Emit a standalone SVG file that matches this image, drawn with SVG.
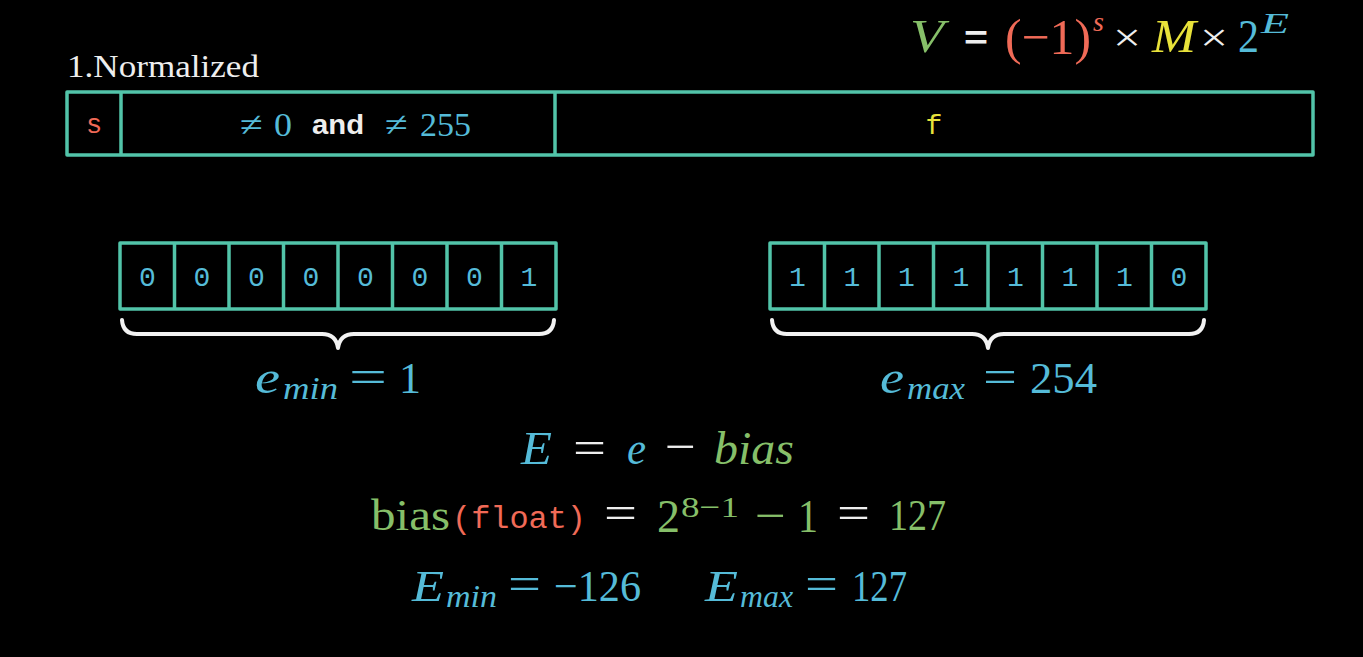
<svg xmlns="http://www.w3.org/2000/svg" width="1363" height="657" viewBox="0 0 1363 657">
<style>
.bg{fill:#000}
.box{fill:none;stroke:#52c4a9;stroke-width:3.5;stroke-linejoin:round}
.div{stroke:#52c4a9;stroke-width:3.5}
.brace{fill:none;stroke:#f2f2f2;stroke-width:4;stroke-linecap:round;stroke-linejoin:round}
.serif{font-family:"Liberation Serif","DejaVu Serif",serif}
.it{font-family:"Liberation Serif","DejaVu Serif",serif;font-style:italic}
.mono{font-family:"Liberation Mono","DejaVu Sans Mono",monospace}
.sans{font-family:"Liberation Sans","DejaVu Sans",sans-serif}
.w{fill:#eeeeee}
.b{fill:#55bbd8}
.g{fill:#86bf69}
.r{fill:#f06a57}
.y{fill:#e8e23a}
.dig{font-family:"Liberation Mono","DejaVu Sans Mono",monospace;font-size:28px;fill:#55bbd8;text-anchor:middle}
</style>
<rect class="bg" x="0" y="0" width="1363" height="657"/>

<g id="formula-top">
  <text class="it g" x="910" y="52" font-size="46" textLength="34" lengthAdjust="spacingAndGlyphs">V</text>
  <text class="sans w" x="964" y="49" font-size="34" font-weight="bold" textLength="24" lengthAdjust="spacingAndGlyphs">=</text>
  <text class="serif r" x="1005" y="54" font-size="50" textLength="86" lengthAdjust="spacingAndGlyphs">(−1)</text>
  <text class="it r" x="1093" y="31" font-size="28">s</text>
  <text class="serif w" x="1113" y="51" font-size="40" textLength="28" lengthAdjust="spacingAndGlyphs">×</text>
  <text class="it y" x="1152" y="52" font-size="46" textLength="44" lengthAdjust="spacingAndGlyphs">M</text>
  <text class="serif w" x="1200" y="51" font-size="40" textLength="28" lengthAdjust="spacingAndGlyphs">×</text>
  <text class="serif b" x="1238" y="52" font-size="46" textLength="21" lengthAdjust="spacingAndGlyphs">2</text>
  <text class="it b" x="1261" y="33" font-size="30" textLength="28" lengthAdjust="spacingAndGlyphs">E</text>
</g>

<g id="title">
  <text class="serif w" x="67" y="77" font-size="31" textLength="192" lengthAdjust="spacingAndGlyphs">1.Normalized</text>
</g>

<g id="bit-layout">
  <rect class="box" x="67" y="92" width="1246" height="63"/>
  <line class="div" x1="121" y1="92" x2="121" y2="155"/>
  <line class="div" x1="555" y1="92" x2="555" y2="155"/>
  <text class="mono r" x="94" y="133" font-size="27" text-anchor="middle">s</text>
  <text class="serif b" x="240" y="136" font-size="34" textLength="23" lengthAdjust="spacingAndGlyphs">≠</text>
  <text class="serif b" x="274" y="136" font-size="34" textLength="18" lengthAdjust="spacingAndGlyphs">0</text>
  <text class="sans w" x="312" y="134" font-size="28" font-weight="bold" textLength="52" lengthAdjust="spacingAndGlyphs">and</text>
  <text class="serif b" x="385" y="136" font-size="34" textLength="23" lengthAdjust="spacingAndGlyphs">≠</text>
  <text class="serif b" x="420" y="136" font-size="34" textLength="51" lengthAdjust="spacingAndGlyphs">255</text>
  <text class="mono y" x="934" y="134" font-size="28" text-anchor="middle">f</text>
</g>

<g id="exp-min">
  <rect class="box" x="120" y="243" width="436" height="66"/>
  <line class="div" x1="174.5" y1="243" x2="174.5" y2="309"/>
  <line class="div" x1="229" y1="243" x2="229" y2="309"/>
  <line class="div" x1="283.5" y1="243" x2="283.5" y2="309"/>
  <line class="div" x1="338" y1="243" x2="338" y2="309"/>
  <line class="div" x1="392.5" y1="243" x2="392.5" y2="309"/>
  <line class="div" x1="447" y1="243" x2="447" y2="309"/>
  <line class="div" x1="501.5" y1="243" x2="501.5" y2="309"/>
  <text class="dig" x="147.3" y="286">0</text>
  <text class="dig" x="201.8" y="286">0</text>
  <text class="dig" x="256.3" y="286">0</text>
  <text class="dig" x="310.8" y="286">0</text>
  <text class="dig" x="365.3" y="286">0</text>
  <text class="dig" x="419.8" y="286">0</text>
  <text class="dig" x="474.3" y="286">0</text>
  <text class="dig" x="528.8" y="286">1</text>
  <path class="brace" d="M122,320 Q123,334 137,334 L322,334 Q336,334 338,348 Q340,334 354,334 L539,334 Q553,334 554,320"/>
  <text class="it b" x="255" y="393" font-size="46" textLength="25" lengthAdjust="spacingAndGlyphs">e</text>
  <text class="it b" x="283" y="399" font-size="32" textLength="55" lengthAdjust="spacingAndGlyphs">min</text>
  <text class="serif b" x="349" y="392" font-size="46" textLength="38" lengthAdjust="spacingAndGlyphs">=</text>
  <text class="serif b" x="399" y="393" font-size="44" textLength="22" lengthAdjust="spacingAndGlyphs">1</text>
</g>

<g id="exp-max">
  <rect class="box" x="770" y="243" width="436" height="66"/>
  <line class="div" x1="824.5" y1="243" x2="824.5" y2="309"/>
  <line class="div" x1="879" y1="243" x2="879" y2="309"/>
  <line class="div" x1="933.5" y1="243" x2="933.5" y2="309"/>
  <line class="div" x1="988" y1="243" x2="988" y2="309"/>
  <line class="div" x1="1042.5" y1="243" x2="1042.5" y2="309"/>
  <line class="div" x1="1097" y1="243" x2="1097" y2="309"/>
  <line class="div" x1="1151.5" y1="243" x2="1151.5" y2="309"/>
  <text class="dig" x="797.3" y="286">1</text>
  <text class="dig" x="851.8" y="286">1</text>
  <text class="dig" x="906.3" y="286">1</text>
  <text class="dig" x="960.8" y="286">1</text>
  <text class="dig" x="1015.3" y="286">1</text>
  <text class="dig" x="1069.8" y="286">1</text>
  <text class="dig" x="1124.3" y="286">1</text>
  <text class="dig" x="1178.8" y="286">0</text>
  <path class="brace" d="M772,320 Q773,334 787,334 L972,334 Q986,334 988,348 Q990,334 1004,334 L1189,334 Q1203,334 1204,320"/>
  <text class="it b" x="880" y="393" font-size="46" textLength="24" lengthAdjust="spacingAndGlyphs">e</text>
  <text class="it b" x="907" y="399" font-size="32" textLength="58" lengthAdjust="spacingAndGlyphs">max</text>
  <text class="serif b" x="983" y="392" font-size="46" textLength="34" lengthAdjust="spacingAndGlyphs">=</text>
  <text class="serif b" x="1030" y="393" font-size="44" textLength="67" lengthAdjust="spacingAndGlyphs">254</text>
</g>

<g id="formula-E">
  <text class="it b" x="521" y="464" font-size="46" textLength="31" lengthAdjust="spacingAndGlyphs">E</text>
  <text class="serif w" x="573" y="463" font-size="46" textLength="33" lengthAdjust="spacingAndGlyphs">=</text>
  <text class="it b" x="627" y="464" font-size="46" textLength="19" lengthAdjust="spacingAndGlyphs">e</text>
  <text class="serif w" x="665" y="462" font-size="46" textLength="31" lengthAdjust="spacingAndGlyphs">−</text>
  <text class="it g" x="714" y="464" font-size="46" textLength="80" lengthAdjust="spacingAndGlyphs">bias</text>
</g>

<g id="formula-bias">
  <text class="serif g" x="371" y="530" font-size="44" textLength="79" lengthAdjust="spacingAndGlyphs">bias</text>
  <text class="mono r" x="452" y="528" font-size="31" textLength="134" lengthAdjust="spacingAndGlyphs">(float)</text>
  <text class="serif w" x="604" y="528" font-size="46" textLength="33" lengthAdjust="spacingAndGlyphs">=</text>
  <text class="serif g" x="657" y="532" font-size="46" textLength="23" lengthAdjust="spacingAndGlyphs">2</text>
  <text class="serif g" x="681" y="517" font-size="30" textLength="58" lengthAdjust="spacingAndGlyphs">8−1</text>
  <text class="serif g" x="755" y="531" font-size="46" textLength="31" lengthAdjust="spacingAndGlyphs">−</text>
  <text class="serif g" x="798" y="532" font-size="46" textLength="20" lengthAdjust="spacingAndGlyphs">1</text>
  <text class="serif w" x="837" y="528" font-size="46" textLength="33" lengthAdjust="spacingAndGlyphs">=</text>
  <text class="serif g" x="889" y="530" font-size="44" textLength="57" lengthAdjust="spacingAndGlyphs">127</text>
</g>

<g id="formula-range">
  <text class="it b" x="412" y="601" font-size="44" textLength="32" lengthAdjust="spacingAndGlyphs">E</text>
  <text class="it b" x="446" y="607" font-size="32" textLength="51" lengthAdjust="spacingAndGlyphs">min</text>
  <text class="serif b" x="508" y="599" font-size="46" textLength="33" lengthAdjust="spacingAndGlyphs">=</text>
  <text class="serif b" x="554" y="601" font-size="44" textLength="87" lengthAdjust="spacingAndGlyphs">−126</text>
  <text class="it b" x="705" y="601" font-size="44" textLength="33" lengthAdjust="spacingAndGlyphs">E</text>
  <text class="it b" x="740" y="607" font-size="32" textLength="53" lengthAdjust="spacingAndGlyphs">max</text>
  <text class="serif b" x="805" y="599" font-size="46" textLength="33" lengthAdjust="spacingAndGlyphs">=</text>
  <text class="serif b" x="852" y="601" font-size="44" textLength="55" lengthAdjust="spacingAndGlyphs">127</text>
</g>
</svg>
